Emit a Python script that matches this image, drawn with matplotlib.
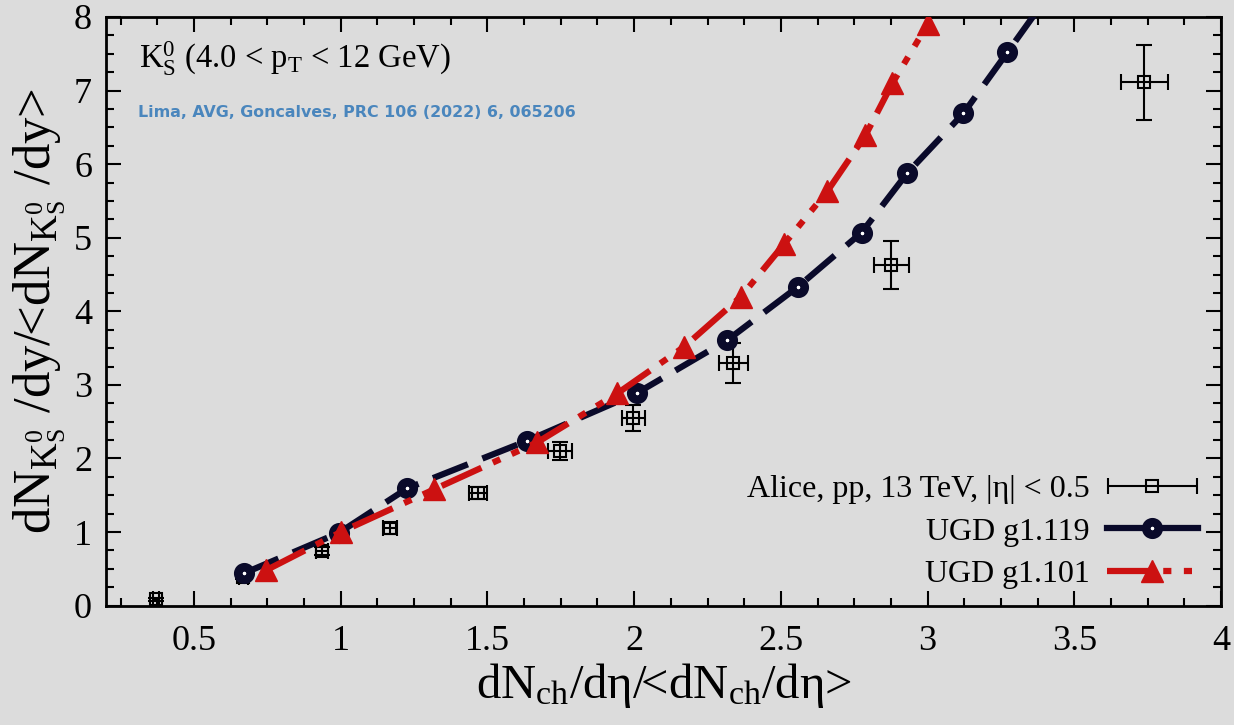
import numpy as np
import matplotlib
matplotlib.use("Agg")
import matplotlib.pyplot as plt
from matplotlib.ticker import MultipleLocator
from matplotlib.legend_handler import HandlerErrorbar
from matplotlib.container import ErrorbarContainer

plt.rcParams['font.family'] = ['Liberation Serif', 'DejaVu Serif']
plt.rcParams['mathtext.fontset'] = 'custom'
plt.rcParams['mathtext.rm'] = 'Liberation Serif'
plt.rcParams['mathtext.it'] = 'Liberation Serif'
plt.rcParams['mathtext.default'] = 'regular'

# ALICE pp 13 TeV, K0s yield ratio vs multiplicity
alice_x = [0.369, 0.668, 0.937, 1.168, 1.468, 1.748, 1.997, 2.338, 2.876, 3.739]
alice_y = [0.09, 0.394, 0.743, 1.05, 1.535, 2.10, 2.55, 3.30, 4.63, 7.11]
alice_xerr = [0.01, 0.015, 0.02, 0.025, 0.03, 0.04, 0.04, 0.05, 0.06, 0.08]
alice_yerr = [0.02, 0.03, 0.05, 0.07, 0.08, 0.12, 0.18, 0.27, 0.33, 0.51]

# model curves
g119_x = [0.670, 0.994, 1.227, 1.635, 2.008, 2.318, 2.557, 2.775, 2.931, 3.122, 3.272, 3.43]
g119_y = [0.44, 0.99, 1.595, 2.24, 2.886, 3.61, 4.33, 5.07, 5.88, 6.69, 7.52, 8.40]

g101_x = [0.745, 1.0, 1.318, 1.67, 1.943, 2.171, 2.364, 2.512, 2.658, 2.788, 2.88, 3.0]
g101_y = [0.48, 1.0, 1.58, 2.22, 2.886, 3.52, 4.20, 4.92, 5.63, 6.39, 7.10, 7.90]

bg = '#dcdcdc'
navy = '#0a0a2a'
red = '#cc1111'
dashdotdot = (0, (7, 2, 1.3, 2, 1.3, 2))

fig = plt.figure(figsize=(12.34, 7.25), dpi=100, facecolor=bg)
ax = fig.add_axes([0.0859, 0.1646, 0.9036, 0.812], facecolor=bg)

ax.errorbar(alice_x, alice_y, xerr=alice_xerr, yerr=alice_yerr, fmt='s',
            ms=9, mfc='none', mec='black', mew=1.5, ecolor='black',
            elinewidth=1.5, capsize=6, capthick=1.5, zorder=2)

ax.plot(g119_x, g119_y, color=navy, lw=4.5, ls=(0, (6, 2.5)),
        marker='o', ms=9, mfc='white', mec=navy, mew=6.2, zorder=3)
ax.plot(g101_x, g101_y, color=red, lw=4.5, ls=dashdotdot,
        marker='^', ms=16, mfc=red, mec=red, zorder=4)

# legend handles (no data)
h_alice = ax.errorbar([np.nan], [np.nan], xerr=[0.1], fmt='s', ms=9,
                      mfc='none', mec='black', mew=1.5, ecolor='black',
                      elinewidth=1.5, capsize=6, capthick=1.5)
h119, = ax.plot([], [], color=navy, lw=4.5, ls='-', marker='o', ms=9,
                mfc='white', mec=navy, mew=6.2)
h101, = ax.plot([], [], color=red, lw=4.5, ls=dashdotdot,
                marker='^', ms=16, mfc=red, mec=red)
ax.legend([h_alice, h119, h101],
          ['Alice, pp, 13 TeV, |η| < 0.5', 'UGD g1.119', 'UGD g1.101'],
          loc='lower right', bbox_to_anchor=(1.005, -0.02), frameon=False,
          markerfirst=False, fontsize=23, handlelength=2.85,
          labelspacing=0.4, handletextpad=0.55,
          handler_map={ErrorbarContainer: HandlerErrorbar(xerr_size=1.4)})

ax.set_xlim(0.2, 4)
ax.set_ylim(0, 8)
ax.xaxis.set_major_locator(MultipleLocator(0.5))
ax.xaxis.set_minor_locator(MultipleLocator(0.125))
ax.yaxis.set_major_locator(MultipleLocator(1))
ax.yaxis.set_minor_locator(MultipleLocator(0.25))
ax.xaxis.set_major_formatter(plt.FuncFormatter(lambda v, p: f'{v:g}'))
ax.tick_params(which='both', direction='in', top=True, right=True,
               width=1.5, labelsize=26)
ax.tick_params(which='major', length=11, pad=14)
ax.tick_params(which='minor', length=6)
ax.tick_params(axis='y', which='major', pad=10)
for s in ax.spines.values():
    s.set_linewidth(2)

ax.set_xlabel(r'dN$_{ch}$/dη/<dN$_{ch}$/dη>', fontsize=35, labelpad=2)
ax.set_ylabel(r'dN$_{K_S^0}$ /dy/<dN$_{K_S^0}$ /dy>', fontsize=38, labelpad=4)

ax.text(0.03, 0.93, r'K$_S^0$ (4.0 < p$_T$ < 12 GeV)', transform=ax.transAxes,
        fontsize=23.5, va='center', ha='left')
ax.text(0.029, 0.837, 'Lima, AVG, Goncalves, PRC 106 (2022) 6, 065206',
        transform=ax.transAxes, fontsize=11.4, fontweight='bold',
        family='DejaVu Sans', color='#4a86bd', va='center', ha='left')

fig.savefig('out.png', dpi=100, facecolor=bg)
